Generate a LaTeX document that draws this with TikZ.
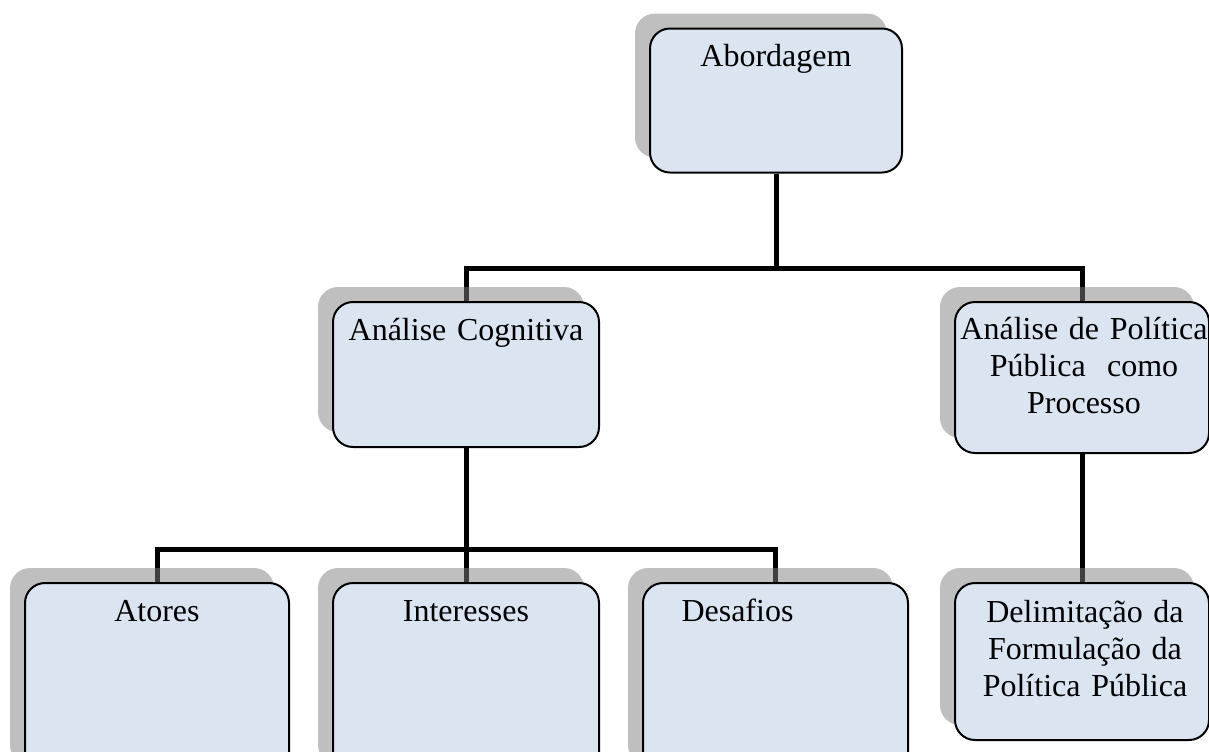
\documentclass[tikz,border=0pt]{standalone}
\usepackage{fontspec}
\setmainfont{Liberation Serif}
\usetikzlibrary{shadows}

\definecolor{boxblue}{HTML}{DBE5F1}
\pgfdeclarelayer{background}
\pgfsetlayers{background,main}

\tikzset{
  box/.style={draw, line width=1pt, rounded corners=10pt, fill=boxblue,
    drop shadow={shadow xshift=-7.5pt, shadow yshift=7.5pt}, inner sep=0pt},
  txt/.style={anchor=base, inner sep=0pt, text width=140pt, align=center,
    font=\fontsize{16}{18.5}\selectfont},
  bar/.style={line width=2.5pt}
}

\begin{document}
\begin{tikzpicture}[x=0.5pt, y=-0.5pt]
    \useasboundingbox (0,0) rectangle (1209,751);
    % boxes
    \node [box, minimum width=126pt, minimum height=72pt] (abord) at (776,100.5) {};
    \node [box, minimum width=133pt, minimum height=72.5pt] (cog) at (466,374.5) {};
    \node [box, minimum width=127pt, minimum height=75.5pt] (proc) at (1082,377.5) {};
    \node [box, minimum width=132pt, minimum height=98.5pt] (atores) at (157,681.5) {};
    \node [box, minimum width=133pt, minimum height=98.5pt] (inter) at (466,681.5) {};
    \node [box, minimum width=132.5pt, minimum height=98.5pt] (desaf) at (775.5,681.5) {};
    \node [box, minimum width=127pt, minimum height=78.5pt] (delim) at (1082,661.5) {};
    % labels
    \node [txt] (abordtxt) at ([yshift=-19.5pt]abord.north) {Abordagem};
    \node [txt] (cogtxt) at ([yshift=-19.5pt]cog.north) {Análise Cognitiva};
    \node [txt] (proctxt) at ([xshift=1pt, yshift=-19pt]proc.north) {Análise de Política\\ Pública\ \ como\\ Processo};
    \node [txt] (atorestxt) at ([yshift=-19.5pt]atores.north) {Atores};
    \node [txt] (intertxt) at ([yshift=-19.5pt]inter.north) {Interesses};
    \node [txt] (desaftxt) at ([xshift=-19pt, yshift=-19.5pt]desaf.north) {Desafios};
    \node [txt] (delimtxt) at ([xshift=1.5pt, yshift=-20pt]delim.north) {Delimitação da\\ Formulação da\\ Política Pública};
    % connectors
    \begin{pgfonlayer}{background}
      \draw [bar] (abord.south) -- ++(0,95) coordinate (topbus);
      \draw [bar] (topbus) -| (cog.north);
      \draw [bar] (topbus) -| (proc.north);
      \draw [bar] (cog.south) -- ++(0,101) coordinate (lowbus);
      \draw [bar] (lowbus) -| (atores.north);
      \draw [bar] (lowbus) -| (inter.north);
      \draw [bar] (lowbus) -| (desaf.north);
      \draw [bar] (proc.south) -- (delim.north);
    \end{pgfonlayer}
\end{tikzpicture}
\end{document}
